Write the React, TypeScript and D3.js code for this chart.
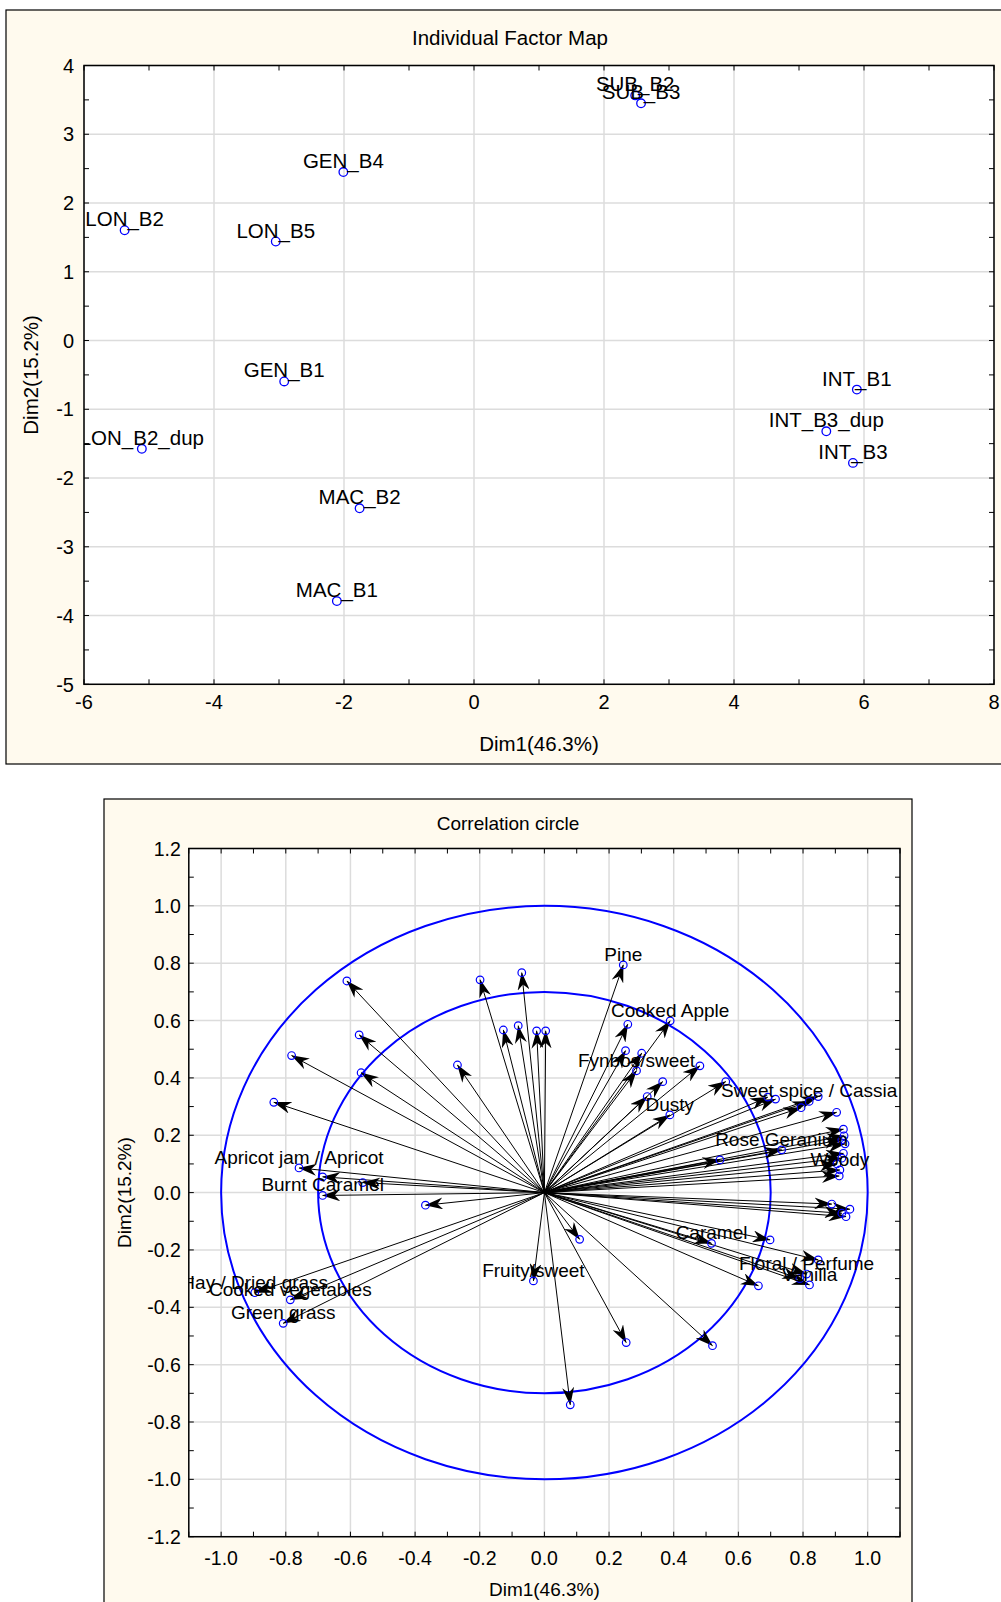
import React from 'react';
import * as d3 from 'd3';

// individuals (top chart)
const indNames = ['SUB_B2', 'SUB_B3', 'GEN_B4', 'LON_B2', 'LON_B5', 'GEN_B1', 'LON_B2_dup', 'MAC_B2', 'MAC_B1', 'INT_B1', 'INT_B3_dup', 'INT_B3'];
const indDim1 = [2.48, 2.57, -2.01, -5.375, -3.05, -2.92, -5.11, -1.76, -2.11, 5.89, 5.42, 5.83];
const indDim2 = [3.565, 3.45, 2.45, 1.604, 1.44, -0.595, -1.575, -2.44, -3.79, -0.714, -1.32, -1.78];

// variables (correlation circle), '' = no label drawn
const varNames = [
  '', '', '', '', '', '', '', '', '', '', '', '',
  'Apricot jam / Apricot', '', '', 'Burnt Caramel', '',
  'Pine', '', 'Cooked Apple', '', '', 'Fynbos/sweet', '', '', '', 'Dusty', '', '', '', '', '',
  'Sweet spice / Cassia', '', '', '', '', '', '', '', 'Rose Geranium', '', 'Woody', '', '',
  '', '', '', '', '', 'Caramel', '', '', 'Floral / Perfume', 'Vanilla', '', '', '', '', '', 'Fruity/sweet',
  'Hay / Dried grass', 'Cooked vegetables', 'Green grass',
];
const varDim1 = [
  -0.611, -0.199, -0.070, -0.573, -0.127, -0.081, -0.024, 0.004, -0.782, -0.269, -0.567, -0.837,
  -0.759, -0.686, -0.562, -0.686, -0.368,
  0.244, 0.258, 0.389, 0.251, 0.301, 0.285, 0.481, 0.366, 0.318, 0.388, 0.561, 0.691, 0.715, 0.794, 0.847,
  0.819, 0.904, 0.925, 0.927, 0.920, 0.930, 0.925, 0.920, 0.734, 0.543, 0.914, 0.912, 0.905,
  0.889, 0.945, 0.933, 0.920, 0.698, 0.517, 0.109, 0.847, 0.811, 0.82, 0.79, 0.662, 0.253, 0.520, 0.080, -0.034,
  -0.896, -0.786, -0.808,
];
const varDim2 = [
  0.738, 0.742, 0.767, 0.550, 0.567, 0.582, 0.564, 0.564, 0.478, 0.445, 0.418, 0.315,
  0.086, 0.055, 0.035, -0.010, -0.044,
  0.794, 0.587, 0.599, 0.495, 0.486, 0.425, 0.442, 0.387, 0.335, 0.271, 0.387, 0.333, 0.326, 0.296, 0.335,
  0.318, 0.280, 0.221, 0.198, 0.184, 0.170, 0.137, 0.120, 0.149, 0.114, 0.079, 0.058, 0.100,
  -0.040, -0.058, -0.084, -0.072, -0.165, -0.177, -0.163, -0.235, -0.284, -0.322, -0.30, -0.325, -0.523, -0.534, -0.740, -0.308,
  -0.349, -0.374, -0.456,
];

const circleRadii = [1, 0.7];

const FONT = 'Liberation Sans, Arial, sans-serif';
const PANEL_BG = '#fffaee';
const GRID = '#dcdcdc';
const BLUE = '#0000ff';

const r1 = (v: number) => Math.round(v * 10) / 10;
const fmtInt = (v: number) => String(Math.round(v));
const fmt1 = (v: number) => r1(v).toFixed(1);

type AxisProps = {
  x: d3.ScaleLinear<number, number>;
  y: d3.ScaleLinear<number, number>;
  xMajor: number[];
  xMinor: number[];
  yMajor: number[];
  yMinor: number[];
  fmt: (v: number) => string;
  fontSize: number;
  xLabelGap: number;
  yLabelGap: number;
};

const Frame = ({ x, y, xMajor, xMinor, yMajor, yMinor, fmt, fontSize, xLabelGap, yLabelGap }: AxisProps) => {
  const [x0, x1] = x.range();
  const [y0, y1] = y.range(); // y0 bottom, y1 top
  const tl = 5;
  return (
    <g>
      <rect x={x0} y={y1} width={x1 - x0} height={y0 - y1} fill="none" stroke="#000" strokeWidth={1.5} />
      {xMinor.map((v, i) => (
        <g key={'xm' + i}>
          <line x1={x(v)} x2={x(v)} y1={y0} y2={y0 - tl} stroke="#000" />
          <line x1={x(v)} x2={x(v)} y1={y1} y2={y1 + tl} stroke="#000" />
        </g>
      ))}
      {yMinor.map((v, i) => (
        <g key={'ym' + i}>
          <line x1={x0} x2={x0 + tl} y1={y(v)} y2={y(v)} stroke="#000" />
          <line x1={x1} x2={x1 - tl} y1={y(v)} y2={y(v)} stroke="#000" />
        </g>
      ))}
      {xMajor.map((v, i) => (
        <text key={'xl' + i} x={x(v)} y={y0 + xLabelGap} textAnchor="middle" fontSize={fontSize} fontFamily={FONT}>
          {fmt(v)}
        </text>
      ))}
      {yMajor.map((v, i) => (
        <text key={'yl' + i} x={x0 - yLabelGap} y={y(v) + fontSize * 0.36} textAnchor="end" fontSize={fontSize} fontFamily={FONT}>
          {fmt(v)}
        </text>
      ))}
    </g>
  );
};

const Grid = ({ x, y, xs, ys }: { x: d3.ScaleLinear<number, number>; y: d3.ScaleLinear<number, number>; xs: number[]; ys: number[] }) => {
  const [x0, x1] = x.range();
  const [y0, y1] = y.range();
  return (
    <g stroke={GRID} strokeWidth={1.5}>
      {xs.map((v, i) => <line key={'gx' + i} x1={x(v)} x2={x(v)} y1={y0} y2={y1} />)}
      {ys.map((v, i) => <line key={'gy' + i} x1={x0} x2={x1} y1={y(v)} y2={y(v)} />)}
    </g>
  );
};

const IndividualMap = () => {
  const x = d3.scaleLinear().domain([-6, 8]).range([84, 994]);
  const y = d3.scaleLinear().domain([-5, 4]).range([684.3, 65.5]);
  const xMajor = d3.range(-6, 8.01, 2);
  const yMajor = d3.range(-5, 4.01, 1);
  const [px0, px1] = x.range();
  const [py0, py1] = y.range();
  return (
    <g>
      <rect x={6} y={10} width={1008} height={754} fill={PANEL_BG} stroke="#000" strokeWidth={1.2} />
      <rect x={px0} y={py1} width={px1 - px0} height={py0 - py1} fill="#fff" />
      <Grid x={x} y={y} xs={xMajor} ys={yMajor} />
      <clipPath id="clip1">
        <rect x={px0} y={py1} width={px1 - px0} height={py0 - py1} />
      </clipPath>
      <g clipPath="url(#clip1)">
        {indNames.map((n, i) => (
          <g key={n}>
            <circle cx={x(indDim1[i])} cy={y(indDim2[i])} r={4.3} fill="none" stroke={BLUE} strokeWidth={1.3} />
            <text x={x(indDim1[i])} y={y(indDim2[i]) - 4} textAnchor="middle" fontSize={20.5} fontFamily={FONT}>
              {n}
            </text>
          </g>
        ))}
      </g>
      <Frame x={x} y={y} xMajor={xMajor} xMinor={d3.range(-6, 8.01, 1)} yMajor={yMajor} yMinor={d3.range(-5, 4.01, 0.5)}
        fmt={fmtInt} fontSize={20} xLabelGap={25} yLabelGap={10} />
      <text x={510} y={45} textAnchor="middle" fontSize={20.5} fontFamily={FONT}>Individual Factor Map</text>
      <text x={(px0 + px1) / 2} y={751} textAnchor="middle" fontSize={20.5} fontFamily={FONT}>Dim1(46.3%)</text>
      <text transform={`translate(38,${(py0 + py1) / 2}) rotate(-90)`} textAnchor="middle" fontSize={20.5} fontFamily={FONT}>
        Dim2(15.2%)
      </text>
    </g>
  );
};

const CorrelationCircle = () => {
  const x = d3.scaleLinear().domain([-1.1, 1.1]).range([188.8, 900]);
  const y = d3.scaleLinear().domain([-1.2, 1.2]).range([1536.7, 848.5]);
  const xMajor = d3.range(-1.0, 1.01, 0.2).map(r1);
  const yMajor = d3.range(-1.2, 1.21, 0.2).map(r1);
  const [px0, px1] = x.range();
  const [py0, py1] = y.range();
  const ox = x(0);
  const oy = y(0);
  return (
    <g>
      <rect x={104} y={799} width={808} height={830} fill={PANEL_BG} stroke="#000" strokeWidth={1.2} />
      <rect x={px0} y={py1} width={px1 - px0} height={py0 - py1} fill="#fff" />
      <Grid x={x} y={y} xs={xMajor} ys={yMajor} />
      <defs>
        <marker id="arrowHead" viewBox="0 0 18 12" refX={17.5} refY={6} markerWidth={18} markerHeight={12}
          markerUnits="userSpaceOnUse" orient="auto">
          <path d="M0,0 L18,6 L0,12 L5.5,6 Z" fill="#000" />
        </marker>
      </defs>
      <clipPath id="clip2">
        <rect x={px0} y={py1} width={px1 - px0} height={py0 - py1} />
      </clipPath>
      <g clipPath="url(#clip2)">
        {circleRadii.map((r) => (
          <ellipse key={r} cx={ox} cy={oy} rx={x(r) - ox} ry={oy - y(r)} fill="none" stroke={BLUE} strokeWidth={2} />
        ))}
        {varDim1.map((d1, i) => (
          <line key={'a' + i} x1={ox} y1={oy} x2={x(d1)} y2={y(varDim2[i])} stroke="#000" strokeWidth={1}
            markerEnd="url(#arrowHead)" />
        ))}
        {varDim1.map((d1, i) => (
          <circle key={'c' + i} cx={x(d1)} cy={y(varDim2[i])} r={3.8} fill="none" stroke={BLUE} strokeWidth={1.2} />
        ))}
        {varNames.map((n, i) =>
          n ? (
            <text key={'t' + i} x={x(varDim1[i])} y={y(varDim2[i]) - 4} textAnchor="middle" fontSize={19} fontFamily={FONT}>
              {n}
            </text>
          ) : null
        )}
      </g>
      <Frame x={x} y={y} xMajor={xMajor} xMinor={d3.range(-1.1, 1.11, 0.1).map(r1)} yMajor={yMajor}
        yMinor={d3.range(-1.2, 1.21, 0.1).map(r1)} fmt={fmt1} fontSize={19.5} xLabelGap={28} yLabelGap={8} />
      <text x={508} y={830} textAnchor="middle" fontSize={19} fontFamily={FONT}>Correlation circle</text>
      <text x={(px0 + px1) / 2} y={1596} textAnchor="middle" fontSize={19} fontFamily={FONT}>Dim1(46.3%)</text>
      <text transform={`translate(131,${(py0 + py1) / 2}) rotate(-90)`} textAnchor="middle" fontSize={19} fontFamily={FONT}>
        Dim2(15.2%)
      </text>
    </g>
  );
};

export default function App() {
  return (
    <svg width={1001} height={1602} style={{ position: 'absolute', left: 0, top: 0, background: '#fff' }}>
      <IndividualMap />
      <CorrelationCircle />
    </svg>
  );
}
